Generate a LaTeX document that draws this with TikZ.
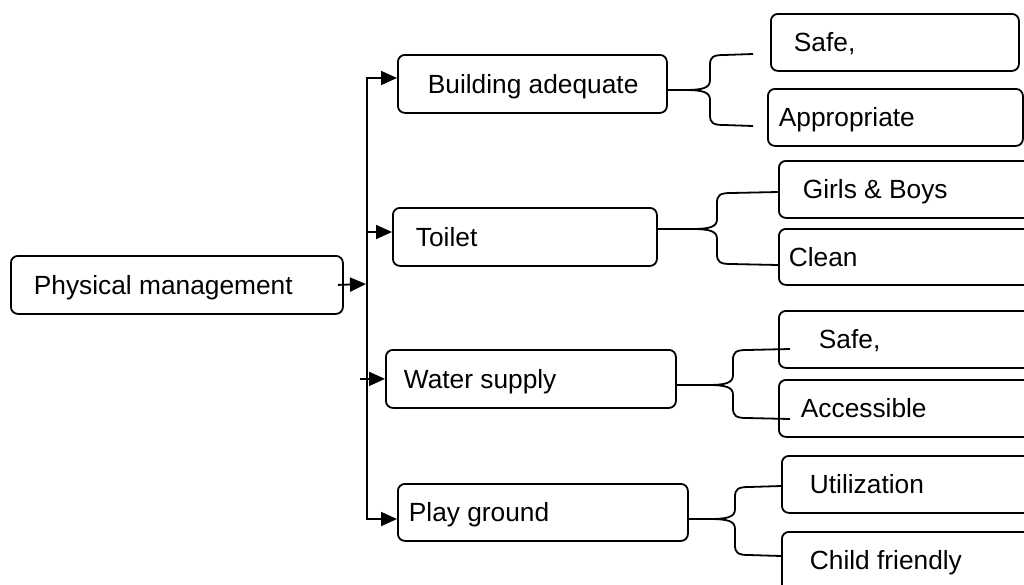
\documentclass[tikz,border=0pt]{standalone}
\usepackage{fontspec}
\setmainfont{Liberation Sans}
\usetikzlibrary{arrows.meta}

% curly joint from a box to its two sub-items
\newcommand{\curlyjoin}[6]{%
  \draw[joinline] (#1.east |- 0,#2) -- (#3-26,#2)
    .. controls (#3-7,#2) and (#3,#2-2) .. (#3,#2-10)
    -- (#3,#4+10) .. controls (#3,#4+2) and (#3+3,#4) .. (#3+14,#4) -- (#6,#4-1);
  \draw[joinline] (#1.east |- 0,#2) -- (#3-26,#2)
    .. controls (#3-7,#2) and (#3,#2+2) .. (#3,#2+10)
    -- (#3,#5-10) .. controls (#3,#5-2) and (#3+3,#5) .. (#3+14,#5) -- (#6,#5+1);
}

\begin{document}
\begin{tikzpicture}[x=1pt,y=-1pt,
  font=\fontsize{26.3pt}{30pt}\selectfont,
  box/.style={draw, line width=1.8pt, rounded corners=7pt, anchor=north west,
    inner ysep=0pt, text height=18.8pt, text depth=0pt},
  joinline/.style={line width=1.8pt},
  flow/.style={line width=1.8pt, -{Triangle[length=16pt,width=14pt]}},
  flowboth/.style={line width=1.8pt,
    {Triangle[length=16pt,width=14pt]}-{Triangle[length=16pt,width=14pt]}}]
\useasboundingbox (0,0) rectangle (1024,584);
\clip (0,0) rectangle (1024,584);

% main boxes
\node[box, minimum height=58pt, inner xsep=23pt] (phys) at (10,255) {\makebox[286pt][l]{Physical management}};
\node[box, minimum height=58pt, inner xsep=30pt] (build) at (397,54) {\makebox[209pt][l]{Building adequate}};
\node[box, minimum height=58pt, inner xsep=23pt] (toilet) at (392,207) {\makebox[218pt][l]{Toilet}};
\node[box, minimum height=58pt, inner xsep=18pt] (water) at (385,349) {\makebox[254pt][l]{Water supply}};
\node[box, minimum height=57pt, inner xsep=11pt] (play) at (397,483) {\makebox[268pt][l]{Play ground}};

% sub-items
\node[box, minimum height=57pt, inner xsep=23pt] (safeA) at (770,13) {\makebox[202pt][l]{Safe,}};
\node[box, minimum height=57pt, inner xsep=11pt] (approp) at (767,88) {\makebox[233pt][l]{Appropriate}};
\node[box, minimum height=57pt, inner xsep=24pt] (girls) at (778,160) {\makebox[222pt][l]{Girls \& Boys}};
\node[box, minimum height=56pt, inner xsep=10pt] (clean) at (778,228) {\makebox[250pt][l]{Clean}};
\node[box, minimum height=57pt, inner xsep=40pt] (safeB) at (778,310) {\makebox[190pt][l]{Safe,}};
\node[box, minimum height=57pt, inner xsep=22pt] (access) at (778,379) {\makebox[226pt][l]{Accessible}};
\node[box, minimum height=57pt, inner xsep=28pt] (util) at (781,455) {\makebox[214pt][l]{Utilization}};
% runs past the lower edge, so the text is lifted to sit where a 57pt box would centre it
\node[box, minimum height=70pt, inner xsep=28pt] (child) at (781,531) {\makebox[214pt][l]{\raisebox{6.5pt}{Child friendly}}};

% trunk with the first and last branches
\coordinate (trunkTop) at (367,78);
\coordinate (trunkBot) at (367,519);
\coordinate (trunkMid) at (366,284);
\draw[flowboth] (build.west |- trunkTop) -- (trunkTop) -- (trunkBot) -- (play.west |- trunkBot);
\draw[flow] ([xshift=-6pt]phys.east) -- (trunkMid);
\draw[flow] (trunkTop |- 0,232) -- (toilet.west |- 0,232);
\draw[flow] ([xshift=-25pt]water.west) -- (water.west);

% joints to the sub-items
\curlyjoin{build}{90}{710}{55}{125}{753}
\curlyjoin{toilet}{229}{717}{193}{264}{778}
\curlyjoin{water}{385}{733}{350}{418}{790}
\curlyjoin{play}{519}{735}{487}{555}{781}
\end{tikzpicture}
\end{document}
